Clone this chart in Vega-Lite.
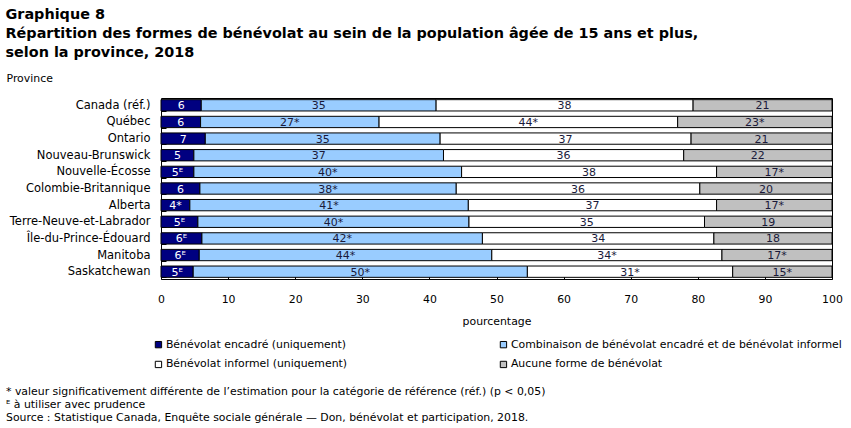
{
  "$schema": "https://vega.github.io/schema/vega-lite/v6.json",
  "padding": {"left": 5, "top": 7, "right": 5, "bottom": 2},
  "background": "white",
  "title": {
    "text": ["Graphique 8", "Répartition des formes de bénévolat au sein de la population âgée de 15 ans et plus,", "selon la province, 2018"],
    "anchor": "start", "frame": "bounds", "font": "DejaVu Sans", "fontSize": 14.4, "fontWeight": "bold",
    "lineHeight": 19, "color": "black", "offset": 11
  },
  "config": {
    "view": {"stroke": "black", "strokeWidth": 1},
    "font": "DejaVu Sans",
    "axis": {"labelColor": "black", "titleColor": "black", "labelFont": "DejaVu Sans", "titleFont": "DejaVu Sans"}
  },
  "vconcat": [
    {
      "width": 671,
      "height": 181,
      "title": {
        "text": ["* valeur significativement différente de l’estimation pour la catégorie de référence (réf.) (p < 0,05)", "ᴱ à utiliser avec prudence", "Source : Statistique Canada, Enquête sociale générale — Don, bénévolat et participation, 2018."],
        "orient": "bottom", "anchor": "start", "frame": "bounds", "fontSize": 10.9, "fontWeight": "normal",
        "lineHeight": 13, "color": "black", "offset": 59
      },
      "data": {
        "values": [
          {"p": "Canada (réf.)", "c": "Bénévolat encadré (uniquement)", "v": 6.0, "l": "6"},
          {"p": "Canada (réf.)", "c": "Combinaison de bénévolat encadré et de bénévolat informel", "v": 35.0, "l": "35"},
          {"p": "Canada (réf.)", "c": "Bénévolat informel (uniquement)", "v": 38.3, "l": "38"},
          {"p": "Canada (réf.)", "c": "Aucune forme de bénévolat", "v": 20.7, "l": "21"},
          {"p": "Québec", "c": "Bénévolat encadré (uniquement)", "v": 5.9, "l": "6"},
          {"p": "Québec", "c": "Combinaison de bénévolat encadré et de bénévolat informel", "v": 26.6, "l": "27*"},
          {"p": "Québec", "c": "Bénévolat informel (uniquement)", "v": 44.5, "l": "44*"},
          {"p": "Québec", "c": "Aucune forme de bénévolat", "v": 23.0, "l": "23*"},
          {"p": "Ontario", "c": "Bénévolat encadré (uniquement)", "v": 6.6, "l": "7"},
          {"p": "Ontario", "c": "Combinaison de bénévolat encadré et de bénévolat informel", "v": 35.0, "l": "35"},
          {"p": "Ontario", "c": "Bénévolat informel (uniquement)", "v": 37.4, "l": "37"},
          {"p": "Ontario", "c": "Aucune forme de bénévolat", "v": 21.0, "l": "21"},
          {"p": "Nouveau-Brunswick", "c": "Bénévolat encadré (uniquement)", "v": 4.9, "l": "5"},
          {"p": "Nouveau-Brunswick", "c": "Combinaison de bénévolat encadré et de bénévolat informel", "v": 37.2, "l": "37"},
          {"p": "Nouveau-Brunswick", "c": "Bénévolat informel (uniquement)", "v": 35.8, "l": "36"},
          {"p": "Nouveau-Brunswick", "c": "Aucune forme de bénévolat", "v": 22.1, "l": "22"},
          {"p": "Nouvelle-Écosse", "c": "Bénévolat encadré (uniquement)", "v": 4.9, "l": "5ᴱ"},
          {"p": "Nouvelle-Écosse", "c": "Combinaison de bénévolat encadré et de bénévolat informel", "v": 39.9, "l": "40*"},
          {"p": "Nouvelle-Écosse", "c": "Bénévolat informel (uniquement)", "v": 38.0, "l": "38"},
          {"p": "Nouvelle-Écosse", "c": "Aucune forme de bénévolat", "v": 17.2, "l": "17*"},
          {"p": "Colombie-Britannique", "c": "Bénévolat encadré (uniquement)", "v": 5.8, "l": "6"},
          {"p": "Colombie-Britannique", "c": "Combinaison de bénévolat encadré et de bénévolat informel", "v": 38.2, "l": "38*"},
          {"p": "Colombie-Britannique", "c": "Bénévolat informel (uniquement)", "v": 36.3, "l": "36"},
          {"p": "Colombie-Britannique", "c": "Aucune forme de bénévolat", "v": 19.7, "l": "20"},
          {"p": "Alberta", "c": "Bénévolat encadré (uniquement)", "v": 4.3, "l": "4*"},
          {"p": "Alberta", "c": "Combinaison de bénévolat encadré et de bénévolat informel", "v": 41.5, "l": "41*"},
          {"p": "Alberta", "c": "Bénévolat informel (uniquement)", "v": 37.0, "l": "37"},
          {"p": "Alberta", "c": "Aucune forme de bénévolat", "v": 17.2, "l": "17*"},
          {"p": "Terre-Neuve-et-Labrador", "c": "Bénévolat encadré (uniquement)", "v": 5.5, "l": "5ᴱ"},
          {"p": "Terre-Neuve-et-Labrador", "c": "Combinaison de bénévolat encadré et de bénévolat informel", "v": 40.4, "l": "40*"},
          {"p": "Terre-Neuve-et-Labrador", "c": "Bénévolat informel (uniquement)", "v": 35.1, "l": "35"},
          {"p": "Terre-Neuve-et-Labrador", "c": "Aucune forme de bénévolat", "v": 19.0, "l": "19"},
          {"p": "Île-du-Prince-Édouard", "c": "Bénévolat encadré (uniquement)", "v": 6.1, "l": "6ᴱ"},
          {"p": "Île-du-Prince-Édouard", "c": "Combinaison de bénévolat encadré et de bénévolat informel", "v": 41.8, "l": "42*"},
          {"p": "Île-du-Prince-Édouard", "c": "Bénévolat informel (uniquement)", "v": 34.5, "l": "34"},
          {"p": "Île-du-Prince-Édouard", "c": "Aucune forme de bénévolat", "v": 17.6, "l": "18"},
          {"p": "Manitoba", "c": "Bénévolat encadré (uniquement)", "v": 5.7, "l": "6ᴱ"},
          {"p": "Manitoba", "c": "Combinaison de bénévolat encadré et de bénévolat informel", "v": 43.6, "l": "44*"},
          {"p": "Manitoba", "c": "Bénévolat informel (uniquement)", "v": 34.3, "l": "34*"},
          {"p": "Manitoba", "c": "Aucune forme de bénévolat", "v": 16.4, "l": "17*"},
          {"p": "Saskatchewan", "c": "Bénévolat encadré (uniquement)", "v": 4.8, "l": "5ᴱ"},
          {"p": "Saskatchewan", "c": "Combinaison de bénévolat encadré et de bénévolat informel", "v": 49.8, "l": "50*"},
          {"p": "Saskatchewan", "c": "Bénévolat informel (uniquement)", "v": 30.6, "l": "31*"},
          {"p": "Saskatchewan", "c": "Aucune forme de bénévolat", "v": 14.8, "l": "15*"}
        ]
      },
      "transform": [
        {"calculate": "indexof(['Bénévolat encadré (uniquement)', 'Combinaison de bénévolat encadré et de bénévolat informel', 'Bénévolat informel (uniquement)', 'Aucune forme de bénévolat'], datum.c)", "as": "o"},
        {"stack": "v", "groupby": ["p"], "sort": [{"field": "o", "order": "ascending"}], "as": ["v0", "v1"]},
        {"calculate": "(datum.v0 + datum.v1) / 2", "as": "mid"}
      ],
      "encoding": {
        "y": {
          "field": "p", "type": "nominal",
          "sort": ["Canada (réf.)", "Québec", "Ontario", "Nouveau-Brunswick", "Nouvelle-Écosse", "Colombie-Britannique", "Alberta", "Terre-Neuve-et-Labrador", "Île-du-Prince-Édouard", "Manitoba", "Saskatchewan"],
          "scale": {"paddingInner": 0.32, "paddingOuter": 0.1},
          "axis": {
            "title": "Province", "titleAngle": 0, "titleAlign": "left", "titleBaseline": "top",
            "titleX": -155, "titleY": -26, "titleFontSize": 10.9, "titleFontWeight": "normal",
            "labelFontSize": 11.5, "labelPadding": 16, "domain": false,
            "ticks": true, "tickBand": "extent", "tickSize": -5, "tickColor": "black"
          }
        }
      },
      "layer": [
        {
          "mark": {"type": "bar", "stroke": "black", "strokeWidth": 1},
          "encoding": {
            "x": {
              "field": "v0", "type": "quantitative", "scale": {"domain": [0, 100], "nice": false},
              "axis": {
                "title": "pourcentage", "titleFontSize": 10.9, "titleFontWeight": "normal", "titlePadding": 12,
                "values": [0, 10, 20, 30, 40, 50, 60, 70, 80, 90, 100],
                "labelFontSize": 10.9, "labelPadding": 18, "domain": false, "grid": false,
                "tickSize": -4, "tickColor": "black", "labelFlush": false
              }
            },
            "x2": {"field": "v1"},
            "color": {
              "field": "c", "type": "nominal",
              "scale": {
                "domain": ["Bénévolat encadré (uniquement)", "Combinaison de bénévolat encadré et de bénévolat informel", "Bénévolat informel (uniquement)", "Aucune forme de bénévolat"],
                "range": ["#000080", "#99ccff", "#ffffff", "#c0c0c0"]
              },
              "legend": {
                "title": null, "orient": "none", "legendX": -8, "legendY": 241, "direction": "horizontal",
                "columns": 2, "columnPadding": 150, "rowPadding": 8, "labelFontSize": 10.9, "labelColor": "black",
                "symbolType": "square", "symbolSize": 40, "symbolStrokeColor": "black", "symbolStrokeWidth": 1,
                "labelOffset": 2, "labelLimit": 400
              }
            }
          }
        },
        {
          "mark": {"type": "text", "fontSize": 11, "baseline": "middle", "dy": 1},
          "encoding": {
            "x": {"field": "mid", "type": "quantitative"},
            "text": {"field": "l"},
            "color": {"condition": {"test": "datum.o == 0", "value": "white"}, "value": "#1a1a3a"}
          }
        }
      ]
    }
  ]
}
